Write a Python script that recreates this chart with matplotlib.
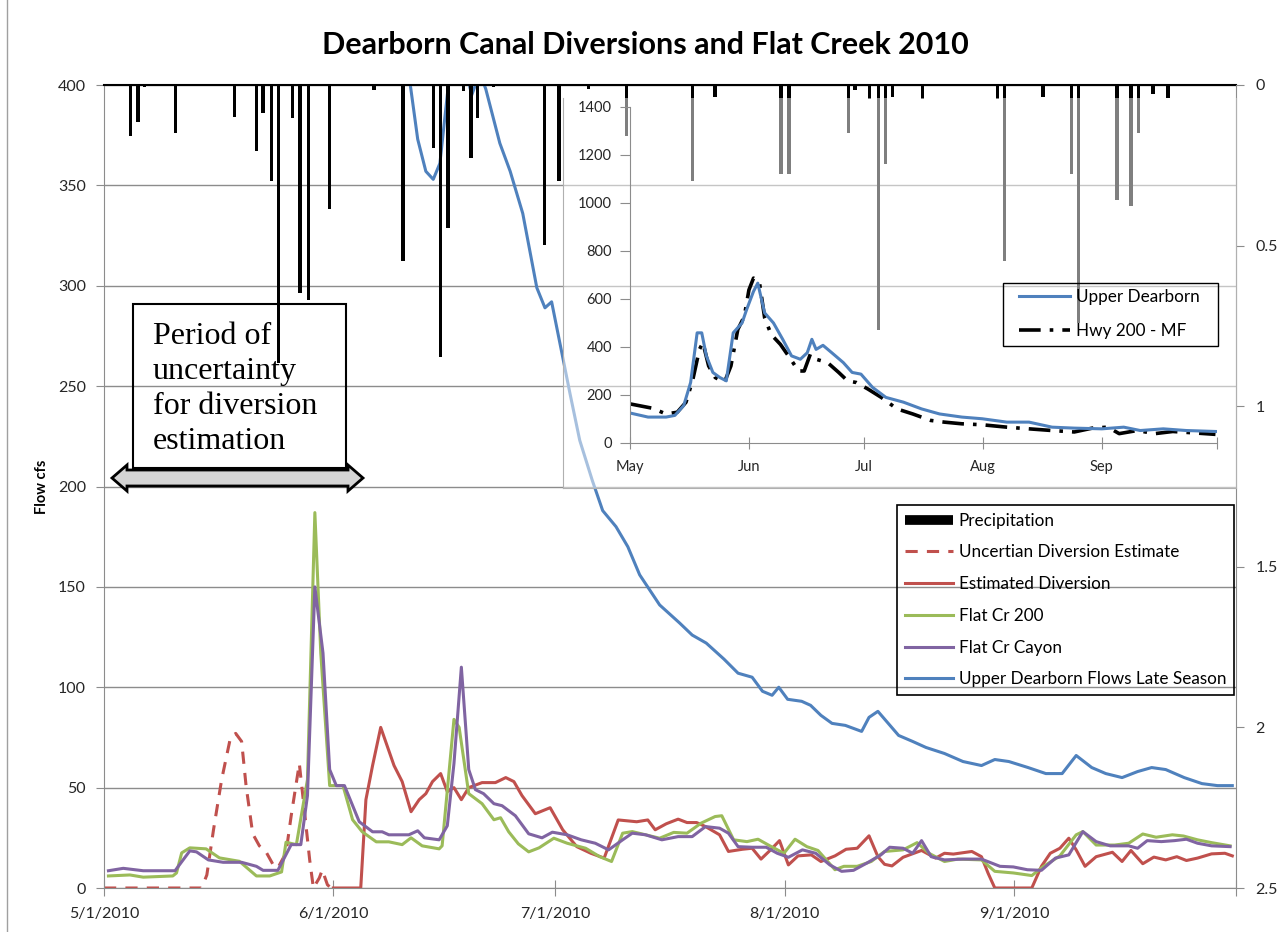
import matplotlib
matplotlib.use("Agg")
import matplotlib.pyplot as plt
from matplotlib.lines import Line2D
from matplotlib.patches import Rectangle, Polygon

plt.rcParams["font.family"] = ["Lato", "DejaVu Sans"]

# ---- data (x = days after 5/1/2010) ----
tick_days = [0, 31, 61, 92, 123, 153]
main_tick_labels = ["5/1/2010", "6/1/2010", "7/1/2010", "8/1/2010", "9/1/2010", ""]
inset_tick_labels = ["May", "Jun", "Jul", "Aug", "Sep", ""]

precip_day = [3.6, 4.6, 5.5, 9.7, 17.6, 20.6, 21.5, 22.6, 23.6, 25.5, 26.5, 27.6, 30.5,
              36.5, 40.4, 44.5, 45.5, 46.5, 48.6, 49.6, 50.5, 52.6, 59.5, 61.5, 65.5,
              70.6, 79.5, 82.6, 91.5, 92.6, 100.6, 101.5, 103.5, 104.7, 105.6, 106.6,
              110.6, 120.8, 121.7, 126.9, 130.8, 131.7, 136.9, 138.8, 139.8, 141.8, 143.8]
precip_in = [0.158, 0.116, 0.007, 0.148, 0.099, 0.207, 0.088, 0.299, 0.867, 0.104, 0.647,
             0.668, 0.387, 0.016, 0.548, 0.197, 0.848, 0.446, 0.018, 0.228, 0.103, 0.007,
             0.498, 0.299, 0.012, 0.158, 0.299, 0.037, 0.278, 0.278, 0.148, 0.016, 0.044,
             0.762, 0.247, 0.037, 0.044, 0.044, 0.548, 0.037, 0.278, 0.74, 0.359, 0.377,
             0.148, 0.028, 0.041]

uncert_day = [0, 13.2, 13.9, 14.8, 15.9, 17.1, 17.8, 18.6, 19.2, 20.1, 21.0, 21.9, 22.8,
              23.5, 24.6, 25.3, 26.4, 27.1, 27.8, 28.3, 29.1, 29.5, 30.2, 30.7, 31.0]
uncert_cfs = [0, 0, 6.5, 29, 54, 75, 77, 73, 51, 27, 21, 18, 12, 10, 17.5, 36, 62, 38, 14,
              0, 5, 9, 1.6, 0, 0]

est_day = [31.0, 34.7, 35.4, 36.3, 37.4, 39.2, 40.3, 41.5, 42.6, 43.5, 44.4, 45.5, 46.4,
           47.3, 48.3, 49.3, 51.1, 52.9, 54.3, 55.4, 56.5, 58.3, 60.3, 62.0, 63.9, 65.8,
           67.6, 69.5, 72.0, 73.5, 74.5, 76.0, 77.6, 78.8, 80.1, 81.3, 83.2, 84.4, 86.3,
           87.6, 88.8, 90.1, 91.3, 92.5, 93.8, 95.6, 96.9, 98.8, 100.3, 101.8, 103.4,
           104.6, 105.5, 106.5, 108.0, 110.5, 112.4, 113.6, 114.8, 117.3, 118.6, 119.5,
           120.4, 125.4, 126.7, 127.9, 129.2, 130.4, 131.4, 132.6, 134.1, 136.3, 137.6,
           138.8, 140.4, 141.9, 143.5, 145.0, 146.3, 147.8, 149.7, 151.5, 152.5]
est_cfs = [0, 0, 44, 61, 80, 61, 53, 38, 44, 47, 53, 57, 48, 50, 44, 50, 52.5, 52.5, 55,
           53, 46, 37, 40, 29, 20.6, 17.3, 14.9, 33.9, 33, 33.9, 29, 32, 34.3, 32.6, 32.6,
           30.6, 26.5, 18.2, 19.3, 19.8, 14.4, 19, 23.6, 11.5, 16, 16.5, 13.2, 16, 19.3,
           19.8, 26, 15.6, 11.8, 11, 15.3, 18.7, 14.9, 17.3, 16.9, 18.2, 15.6, 7.3, 0, 0,
           10.8, 17.3, 19.8, 24.8, 19, 10.8, 15.6, 17.8, 13.2, 18.7, 12.1, 15.4, 14, 15.6,
           13.7, 14.9, 17, 17.3, 16]

flat200_day = [0.6, 3.5, 5.3, 9.3, 9.8, 10.5, 11.6, 13.8, 15.6, 18.3, 20.6, 22.4, 24.0,
               24.6, 26.0, 27.5, 28.5, 29.3, 30.5, 32.3, 33.6, 34.9, 36.8, 38.5, 40.3,
               41.5, 43.0, 45.3, 45.7, 47.3, 48.0, 49.3, 51.1, 52.7, 53.6, 54.7, 56.0,
               57.4, 58.8, 60.8, 62.6, 65.1, 67.0, 68.6, 70.1, 71.4, 73.2, 75.1, 77.0,
               78.8, 80.7, 82.6, 83.5, 85.1, 86.9, 88.4, 90.0, 91.9, 93.4, 95.0, 96.5,
               98.8, 100.0, 101.8, 103.7, 105.5, 108.0, 109.9, 111.5, 113.6, 115.4, 118.6,
               120.4, 122.9, 125.4, 127.0, 129.2, 131.4, 132.3, 134.1, 136.6, 138.5, 140.4,
               142.2, 144.4, 145.9, 147.8, 149.7, 152.2]
flat200_cfs = [6, 6.5, 5.4, 6, 7.5, 17.5, 20, 19.5, 15, 13.3, 6, 6, 8, 22.8, 21.6, 54, 187,
               117, 51, 51, 34, 28, 23, 23, 21.6, 25, 21, 19.5, 21, 84, 80, 47, 42, 34, 35,
               28, 22, 18, 20, 24.8, 22.3, 19.8, 15.6, 13.2, 27.3, 28.1, 26.5, 24.8, 27.7,
               27.3, 32.3, 35.6, 36, 24, 23.1, 24.3, 21, 17.3, 24.3, 20.6, 18.7, 9.1, 10.8,
               10.8, 13.2, 18.2, 19, 22.6, 17.3, 13.2, 14.4, 14, 8.3, 7.5, 6.2, 10.8, 16,
               26.5, 28.1, 21.4, 21.4, 22.3, 26.9, 25.3, 26.5, 25.9, 24, 22.6, 21]

canyon_day = [0.6, 2.6, 5.3, 9.6, 11.6, 12.5, 14.1, 16.1, 18.6, 20.6, 21.5, 23.5, 25.3,
              26.6, 27.5, 28.5, 29.6, 30.5, 31.4, 32.5, 34.5, 36.3, 37.6, 38.5, 41.2,
              42.4, 43.3, 45.3, 46.4, 47.3, 48.3, 49.3, 50.2, 51.3, 52.7, 53.8, 55.6,
              57.4, 59.2, 60.6, 62.6, 64.5, 66.4, 68.2, 70.1, 71.4, 73.2, 75.4, 77.6,
              79.5, 81.3, 83.2, 84.4, 85.7, 87.6, 89.5, 91.0, 92.5, 94.4, 96.2, 98.1,
              99.7, 101.3, 103.1, 105.0, 106.2, 108.0, 109.3, 110.5, 111.8, 113.6, 116.1,
              118.6, 121.1, 122.9, 124.8, 126.7, 128.6, 130.4, 132.3, 134.1, 136.0, 138.5,
              139.7, 141.0, 142.9, 144.7, 146.3, 147.8, 149.7, 152.2]
canyon_cfs = [8.6, 9.8, 8.6, 8.6, 18.5, 18, 14, 12.8, 12.8, 10.8, 8.8, 8.8, 21.6, 21.6, 46,
              150, 117, 59, 51, 51, 33, 28, 28, 26.5, 26.5, 28.5, 25, 24, 31, 62, 110, 59,
              49, 47, 42, 41, 36, 27, 25, 27.8, 26.5, 24, 22.3, 19, 24, 27.3, 26.5, 24,
              25.6, 25.6, 30.6, 29.8, 27.3, 20.6, 20.3, 20.3, 17.3, 15.3, 19, 17.3, 11.5,
              8.3, 8.8, 12.4, 16.5, 20.3, 19.8, 17.3, 23.6, 15.6, 14, 14.4, 14.4, 10.8,
              10.5, 9.1, 8.8, 14.9, 16.5, 28.1, 23.1, 21, 21, 19.8, 23.6, 23.1, 23.6, 24.3,
              22.3, 21, 20.6]

upper_day = [40.3, 41.4, 42.4, 43.5, 44.5, 45.4, 46.4, 47.4, 48.6, 49.7, 50.8, 51.6, 53.5,
             54.9, 56.6, 58.5, 59.6, 60.5, 63.0, 64.3, 66.0, 67.4, 69.2, 70.8, 72.4, 75.1,
             77.8, 79.5, 81.4, 83.8, 85.7, 87.6, 89.0, 90.3, 91.2, 92.4, 94.3, 95.5, 96.9,
             98.4, 100.2, 102.4, 103.4, 104.6, 107.4, 109.3, 111.1, 113.6, 116.1, 118.6,
             120.4, 122.3, 124.9, 127.3, 129.5, 131.4, 133.5, 135.4, 137.6, 139.7, 141.6,
             143.5, 146.0, 148.4, 150.5, 152.5]
upper_cfs = [430, 400, 373, 357, 353, 361, 395, 430, 412, 395, 406, 398, 371, 357, 336, 299,
             289, 292, 246, 223, 203, 188, 180, 170, 156, 141, 132, 126, 122, 114, 107, 105,
             98, 96, 100, 94, 93, 91, 86, 82, 81, 78, 85, 88, 76, 73, 70, 67, 63, 61, 64,
             63, 60, 57, 57, 66, 60, 57, 55, 58, 60, 59, 55, 52, 51, 51]

# inset chart: Upper Dearborn vs Hwy 200 - MF, full season
in_upper_day = [0, 4.7, 9.4, 11.7, 14, 15.8, 17.5, 18.7, 19.9, 21.6, 23.4, 25.1, 26.9, 29.2,
                30.4, 32.2, 33.3, 35.1, 37.4, 39.8, 42.1, 44.4, 46.2, 47.4, 48.5, 50.3,
                52.6, 55.6, 57.9, 60.2, 63.2, 66.7, 71.3, 76, 80.7, 86.5, 91.8, 98.2, 104,
                110, 115.8, 123, 128.7, 133, 139, 145, 152.6]
in_upper_cfs = [125, 108, 108, 115, 156, 252, 459, 459, 363, 294, 273, 259, 459, 500, 556,
                632, 666, 542, 500, 432, 363, 349, 376, 432, 390, 407, 376, 335, 294, 287,
                232, 190, 170, 142, 121, 108, 101, 87, 87, 66, 62, 59, 66, 52, 59, 52, 48]
in_hwy_day = [0, 5.8, 9.4, 12.3, 14.6, 16.4, 18.1, 19, 20.5, 22.2, 24.6, 26.3, 28.1, 29.8,
              31, 32.2, 33.7, 35.1, 36.8, 39.2, 41.9, 43.9, 45.4, 47, 48.5, 51.5, 54.4,
              56.7, 59, 62, 65.5, 69.6, 73.7, 78.4, 81.9, 86.5, 91.8, 98.2, 104, 110,
              115.8, 120.5, 124.6, 127.5, 132.2, 136.8, 141.5, 146.2, 152.6]
in_hwy_cfs = [163, 145, 121, 128, 170, 266, 390, 418, 321, 273, 252, 321, 473, 528, 638,
              687, 673, 521, 452, 411, 349, 300, 300, 370, 349, 335, 294, 259, 252, 225,
              190, 142, 121, 94, 87, 80, 76, 66, 59, 52, 46, 62, 66, 39, 52, 39, 48, 43, 36]

RED, GREEN, PURPLE, BLUE = "#C0504D", "#9BBB59", "#8064A2", "#4F81BD"
GRID = "#8c8c8c"
TXT = "#262626"

W, H = 1287, 932
fig = plt.figure(figsize=(W / 100, H / 100), dpi=100)


def fbox(x0, y0, x1, y1):
    # pixel box (top-left origin) -> figure fraction rect
    return [x0 / W, 1 - y1 / H, (x1 - x0) / W, (y1 - y0) / H]


def fpt(x, y):
    return x / W, 1 - y / H


# ---- main chart ----
ax = fig.add_axes(fbox(104, 85, 1236, 888))
ax.set_xlim(0, 153)
ax.set_ylim(0, 400)
ax.set_yticks(range(0, 401, 50))
ax.set_xticks(tick_days)
ax.set_xticklabels(main_tick_labels)
ax.yaxis.grid(True, color=GRID, lw=1)
ax.set_axisbelow(True)
ax.tick_params(axis="y", direction="out", length=6, color=GRID, labelsize=11.5,
               labelcolor=TXT, pad=7)
ax.tick_params(axis="x", direction="inout", length=11, color=GRID, labelsize=11.5,
               labelcolor=TXT, pad=8)
for s in ("left", "bottom"):
    ax.spines[s].set_color(GRID)
ax.spines["right"].set_visible(False)
ax.spines["top"].set_color("black")
ax.spines["top"].set_linewidth(1.5)

ax.plot(uncert_day, uncert_cfs, color=RED, lw=2.2, ls=(0, (4, 3)))
ax.plot(est_day, est_cfs, color=RED, lw=2.2)
ax.plot(flat200_day, flat200_cfs, color=GREEN, lw=2.2)
ax.plot(canyon_day, canyon_cfs, color=PURPLE, lw=2.2)
ax.plot(upper_day, upper_cfs, color=BLUE, lw=2.2)

ax2 = ax.twinx()
ax2.set_ylim(2.5, 0)
ax2.set_yticks([0, 0.5, 1, 1.5, 2, 2.5])
ax2.set_yticklabels(["0", "0.5", "1", "1.5", "2", "2.5"])
ax2.tick_params(axis="y", direction="out", length=6, color=GRID, labelsize=11.5,
                labelcolor=TXT, pad=8)
for s in ("left", "bottom", "top"):
    ax2.spines[s].set_visible(False)
ax2.spines["right"].set_color(GRID)
ax2.bar(precip_day, precip_in, width=0.45, color="black")

fig.text(*fpt(42, 487), "Flow cfs", rotation=90, ha="center", va="center",
         fontsize=10.5, fontweight="bold")
fig.text(*fpt(645, 45), "Dearborn Canal Diversions and Flat Creek 2010",
         ha="center", va="center", fontsize=22, fontweight="bold")
fig.add_artist(Line2D([7 / W, 7 / W], [0, 1], color="#a0a0a0", lw=1))

handles = [
    Line2D([], [], color="black", lw=7, solid_capstyle="butt"),
    Line2D([], [], color=RED, lw=2.2, ls=(0, (4, 3))),
    Line2D([], [], color=RED, lw=2.2),
    Line2D([], [], color=GREEN, lw=2.2),
    Line2D([], [], color=PURPLE, lw=2.2),
    Line2D([], [], color=BLUE, lw=2.2),
]
labels = ["Precipitation", "Uncertian Diversion Estimate", "Estimated Diversion",
          "Flat Cr 200", "Flat Cr Cayon", "Upper Dearborn Flows Late Season"]
leg = fig.legend(handles, labels, loc="upper left", bbox_to_anchor=fpt(897, 505),
                 fontsize=12.3, handlelength=2.8, handletextpad=0.35, labelspacing=0.92,
                 borderpad=0.45, borderaxespad=0, fancybox=False, framealpha=1)
leg.get_frame().set_facecolor("none")
leg.get_frame().set_edgecolor("black")
leg.get_frame().set_linewidth(1.2)

# ---- text box + double arrow ----
x0, y0 = fpt(133, 468)
x1, y1 = fpt(346, 304)
fig.add_artist(Rectangle((x0, y0), x1 - x0, y1 - y0, transform=fig.transFigure,
                         fill=False, edgecolor="black", lw=1.5))
fig.text(*fpt(153, 322), "Period of\nuncertainty\nfor diversion\nestimation",
         ha="left", va="top", fontsize=23, family="Liberation Serif", linespacing=1.27)

ax0, ax1, yc, sh, hh, hl = 112, 363, 478, 8, 13, 15
arrow_px = [(ax0, yc), (ax0 + hl, yc - hh), (ax0 + hl, yc - sh), (ax1 - hl, yc - sh),
            (ax1 - hl, yc - hh), (ax1, yc), (ax1 - hl, yc + hh), (ax1 - hl, yc + sh),
            (ax0 + hl, yc + sh), (ax0 + hl, yc + hh)]
fig.add_artist(Polygon([fpt(x, y) for x, y in arrow_px], closed=True,
                       transform=fig.transFigure, facecolor="#d4d4d4",
                       edgecolor="black", lw=2))

# ---- inset picture ----
bg = fig.add_axes(fbox(563, 98, 1236, 488))
bg.set_facecolor((1, 1, 1, 0.5))
bg.set_xticks([])
bg.set_yticks([])
for s in bg.spines.values():
    s.set_color("#b0b0b0")
bg.spines["top"].set_visible(False)

axi = fig.add_axes(fbox(630, 107, 1217, 443))
axi.set_facecolor("none")
axi.set_xlim(0, 153)
axi.set_ylim(0, 1400)
axi.set_yticks(range(0, 1401, 200))
axi.set_xticks(tick_days)
axi.set_xticklabels(inset_tick_labels)
axi.tick_params(axis="y", direction="out", length=7, color=GRID, labelsize=10.5,
                labelcolor=TXT, pad=6)
axi.tick_params(axis="x", direction="inout", length=9, color=GRID, labelsize=10.5,
                labelcolor=TXT, pad=8)
axi.spines["top"].set_visible(False)
axi.spines["right"].set_visible(False)
axi.spines["left"].set_color(GRID)
axi.spines["bottom"].set_color(GRID)
axi.plot(in_hwy_day, in_hwy_cfs, color="black", lw=2.6, ls=(0, (6, 2.5, 1, 2.5)))
axi.plot(in_upper_day, in_upper_cfs, color=BLUE, lw=2.2)

# inset legend: frame drawn separately (Excel box is wider than its content)
lx0, ly0 = fpt(1003, 346)
lx1, ly1 = fpt(1218, 283)
fig.add_artist(Rectangle((lx0, ly0), lx1 - lx0, ly1 - ly0, transform=fig.transFigure,
                         fill=False, edgecolor="black", lw=1))
axi.legend(
    [Line2D([], [], color=BLUE, lw=2.2),
     Line2D([], [], color="black", lw=2.6, ls=(0, (6, 2.5, 1, 2.5)))],
    ["Upper Dearborn", "Hwy 200 - MF"], loc="upper left",
    bbox_to_anchor=fpt(1019, 289), bbox_transform=fig.transFigure, fontsize=12.3,
    handlelength=3.0, handletextpad=0.35, labelspacing=1.05, borderpad=0,
    borderaxespad=0, frameon=False)

fig.savefig("out.png", dpi=100)
